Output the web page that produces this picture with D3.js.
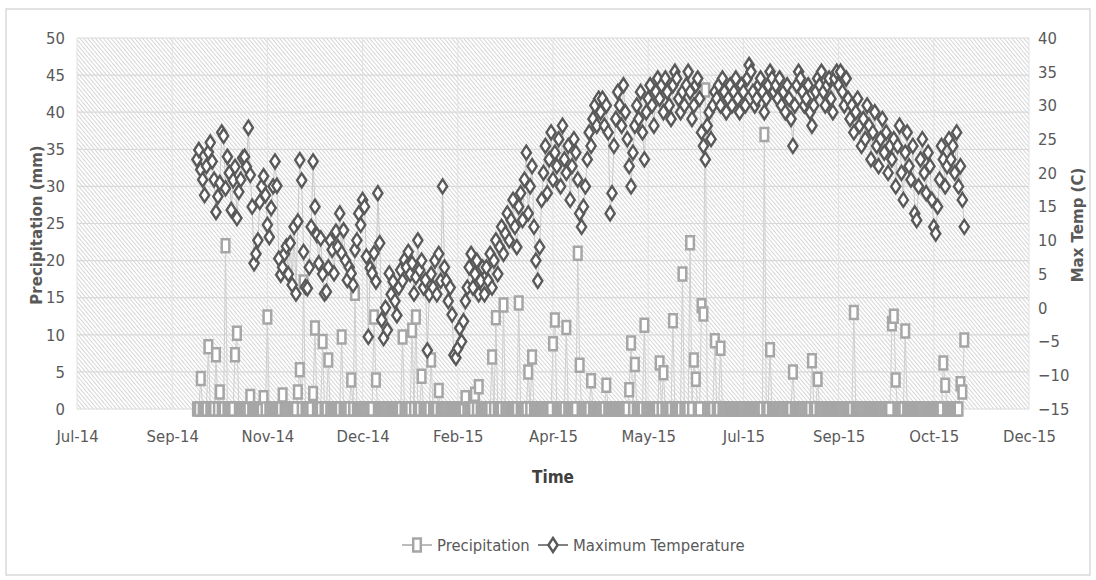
<!DOCTYPE html>
<html>
<head>
<meta charset="utf-8">
<script src="https://cdn.jsdelivr.net/npm/d3@7"></script>
<style>
  html, body { margin: 0; padding: 0; background: #ffffff; }
  svg text { font-family: "Liberation Sans Narrow", "DejaVu Sans Condensed", "Liberation Sans", sans-serif; }
</style>
</head>
<body>
<svg id="chart" width="1096" height="580"></svg>
<script>
// ---- Data -------------------------------------------------------------
const recordStart = "2014-10-01";   // first daily observation

// Daily maximum temperature (C), one array per month
const tOct14 = [22,23.4,20.5,19,16.7,21,23.1,24.5,21.7,19,14.2,16.5,18.5,26,25.5,17.7,22.4,20,14.5,18.9,20.9,13.3,17.2,19,22.2,22.4,20.9,26.7,19.7,15,6.6];
const tNov14 = [8,10,15.7,18,19.5,16.7,12.3,10.5,14.8,18,21.7,18.1,7.3,4.9,6,8,9.1,5,9.6,3.4,12,2.1,12.8,21.9,18.9,8.3,3.1,2.9,6,12];
const tDec14 = [21.7,15,10.8,6.6,10.3,5,2.1,2.4,6,10,8.6,5.1,11.3,9,14,8.1,11.5,7,4.1,6,5.1,3.4,8.6,10,14,12.3,16,15,7.6,-4.3,5.9];
const tJan15 = [5.1,8.1,3.9,17,9.6,-1.8,-4.5,0,-3.3,5.1,2,3.9,1,-1.1,3,5.6,4,7.1,6,8.3,5,6.6,2.1,4.6,10,5.6,7,3,4.1,-6.3,2];
const tFeb15 = [5,3,7,2,8,4,18,6,4,1,3,-1,-7,-7.4,-6,-3,-5,-2,1,3,6,8,3,5,7,2,4,6];
const tMar15 = [2,6,4,8,3,7,10,5,9,12,8,11,14,10,13,16,12,9,15,17,13,19,23,14,18,21,12,7,4,9,16];
const tApr15 = [20,24,17,22,26,19,23,21,25,18,27,22,20,24,16,21,25,23,19,14,12,15,18,22,26,24,28,30,27,31];
const tMay15 = [29,31,27,30,26,14,17,24,28,32,30,27,33,29,25,21,18,23,27,30,28,32,26,22,29,31,33,30,27,32,34];
const tJun15 = [31,33,29,34,32,30,28,33,35,34,31,29,32,30,33,35,32,28,30,33,34,31,26,24,22,27,29,25,30,32];
const tJul15 = [31,33,30,34,32,29,31,33,30,32,34,31,29,33,32,30,34,36,35,32,30,31,33,34,32,29,31,33,35,34,32];
const tAug15 = [33,31,34,30,32,29,33,31,28,24,30,33,35,34,32,30,31,33,29,27,30,32,34,33,35,32,30,33,34,31,29];
const tSep15 = [34,35,33,35,32,30,34,31,28,30,26,29,31,27,24,28,25,30,27,22,26,29,24,21,25,28,23,26,20,24];
const tOct15 = [22,25,18,24,27,20,16,23,26,21,19,24,14,13,18,22,25,20,17,23,21,16,12,11,15,19,24,22,18,21,25];
const tNov15 = [22,24,20,26,18,21,16,12];

// Days with measurable precipitation (mm); every other day of the record is 0
const rainDates = ["2014-10-03","2014-10-07","2014-10-11","2014-10-13","2014-10-16","2014-10-21","2014-10-22","2014-10-29",
  "2014-11-05","2014-11-07","2014-11-15","2014-11-23","2014-11-24","2014-11-26","2014-12-01","2014-12-02","2014-12-06",
  "2014-12-09","2014-12-16","2014-12-21","2014-12-23","2015-01-02","2015-01-03","2015-01-17","2015-01-22","2015-01-24",
  "2015-01-27","2015-02-01","2015-02-05","2015-02-19","2015-02-24","2015-02-26","2015-03-05","2015-03-07","2015-03-11",
  "2015-03-19","2015-03-24","2015-03-26","2015-04-06","2015-04-07","2015-04-13","2015-04-19","2015-04-20","2015-04-26",
  "2015-05-04","2015-05-16","2015-05-17","2015-05-19","2015-05-24","2015-06-01","2015-06-03","2015-06-08","2015-06-13",
  "2015-06-17","2015-06-19","2015-06-20","2015-06-23","2015-06-24","2015-06-25","2015-06-30","2015-07-03","2015-07-26",
  "2015-07-29","2015-08-10","2015-08-20","2015-08-23","2015-09-11","2015-10-01","2015-10-02","2015-10-03","2015-10-08",
  "2015-10-28","2015-10-29","2015-11-06","2015-11-07","2015-11-08"];
const rainMm = [4.1,8.4,7.3,2.3,22,7.3,10.2,1.7,
  1.5,12.4,1.9,2.3,5.3,17.1,2.1,10.9,9.1,
  6.6,9.7,3.9,15.6,12.4,3.9,9.7,10.6,12.4,
  4.4,6.6,2.5,1.5,2,3,7,12.3,14,
  14.3,5,7,8.8,12,11,21,5.9,3.8,
  3.2,2.6,8.9,6,11.3,6.2,4.9,11.9,18.2,
  22.4,6.6,4,13.9,12.8,43,9.2,8.2,37,
  8,5,6.5,4,13,11.5,12.5,3.9,10.5,
  6.2,3.2,3.4,2.3,9.3];

// Axis ticks
const xTickDates = ["2014-07-30","2014-09-18","2014-11-07","2014-12-27","2015-02-15","2015-04-06",
  "2015-05-26","2015-07-15","2015-09-03","2015-10-23","2015-12-12"];
const precipTicks = [0,5,10,15,20,25,30,35,40,45,50];
const tempTicks = [-15,-10,-5,0,5,10,15,20,25,30,35,40];

// ---- Build daily records ---------------------------------------------
const parse = d3.utcParse("%Y-%m-%d");
const temps = [].concat(tOct14,tNov14,tDec14,tJan15,tFeb15,tMar15,tApr15,tMay15,tJun15,tJul15,tAug15,tSep15,tOct15,tNov15);
const day0 = parse(recordStart);
const rainByDay = new Map(rainDates.map((d,i) => [d, rainMm[i]]));
const fmtKey = d3.utcFormat("%Y-%m-%d");
const records = temps.map((t,i) => {
  const date = d3.utcDay.offset(day0, i);
  const key = fmtKey(date);
  return { date, temp: t, precip: rainByDay.has(key) ? rainByDay.get(key) : 0 };
});

// ---- Layout ----------------------------------------------------------
const svg = d3.select("#chart");
const plot = { left: 77, right: 1029, top: 38, bottom: 409 };
const tickDates = xTickDates.map(parse);

const x = d3.scaleUtc().domain([tickDates[0], tickDates[tickDates.length-1]]).range([plot.left, plot.right]);
const yP = d3.scaleLinear().domain([0,50]).range([plot.bottom, plot.top]);
const yT = d3.scaleLinear().domain([-15,40]).range([plot.bottom, plot.top]);

const grey = "#595959";

// chart frame
svg.append("rect").attr("x",6).attr("y",9).attr("width",1084).attr("height",566)
  .attr("fill","#fff").attr("stroke","#d9d9d9").attr("stroke-width",1.5);

// hatched plot background
const defs = svg.append("defs");
const pat = defs.append("pattern").attr("id","hatch").attr("patternUnits","userSpaceOnUse")
  .attr("width",3).attr("height",10).attr("patternTransform","rotate(-40)");
pat.append("rect").attr("width",3).attr("height",10).attr("fill","#ffffff");
pat.append("line").attr("x1",0.5).attr("y1",0).attr("x2",0.5).attr("y2",10)
  .attr("stroke","#d6d6d6").attr("stroke-width",1);

svg.append("rect").attr("x",plot.left).attr("y",plot.top)
  .attr("width",plot.right-plot.left).attr("height",plot.bottom-plot.top).attr("fill","url(#hatch)");

// gridlines
const grid = svg.append("g");
grid.selectAll("line.h").data(precipTicks).join("line").attr("class","h")
  .attr("x1",plot.left).attr("x2",plot.right).attr("y1",d=>yP(d)).attr("y2",d=>yP(d))
  .attr("stroke","#d9d9d9").attr("stroke-width",1.2);
grid.selectAll("line.v").data(tickDates).join("line").attr("class","v")
  .attr("y1",plot.top).attr("y2",plot.bottom).attr("x1",d=>x(d)).attr("x2",d=>x(d))
  .attr("stroke","#e2e2e2").attr("stroke-width",1);

// axes
const axL = svg.append("g").attr("transform",`translate(${plot.left},0)`)
  .call(d3.axisLeft(yP).tickValues(precipTicks).tickSize(0).tickPadding(12));
const axR = svg.append("g").attr("transform",`translate(${plot.right},0)`)
  .call(d3.axisRight(yT).tickValues(tempTicks).tickSize(0).tickPadding(9));
const axB = svg.append("g").attr("transform",`translate(0,${plot.bottom})`)
  .call(d3.axisBottom(x).tickValues(tickDates).tickFormat(d3.utcFormat("%b-%y")).tickSize(0).tickPadding(21));
[axL, axR, axB].forEach(g => {
  g.select(".domain").remove();
  g.selectAll("text").attr("fill",grey).attr("font-size",16.5);
});

// axis titles
svg.append("text").attr("transform","translate(42,225) rotate(-90)").attr("text-anchor","middle")
  .attr("fill",grey).attr("font-size",15).attr("font-weight","bold")
  .style("font-family","'DejaVu Sans', sans-serif").text("Precipitation (mm)");
svg.append("text").attr("transform","translate(1083,225) rotate(-90)").attr("text-anchor","middle")
  .attr("fill",grey).attr("font-size",15).attr("font-weight","bold")
  .style("font-family","'DejaVu Sans', sans-serif").text("Max Temp (C)");
svg.append("text").attr("x",553).attr("y",483).attr("text-anchor","middle")
  .attr("fill","#404040").attr("font-size",17).attr("font-weight","bold").text("Time");

// markers
const squarePath = "M-3.8,-6.5 H3.8 V6.5 H-3.8 Z";
const diamondPath = "M0,-7 L4.6,0 L0,7 L-4.6,0 Z";

// precipitation series
svg.append("path").datum(records)
  .attr("d", d3.line().x(d=>x(d.date)).y(d=>yP(d.precip)))
  .attr("fill","none").attr("stroke","#cfcfcf").attr("stroke-width",1);
svg.append("g").selectAll("path").data(records).join("path")
  .attr("transform",d=>`translate(${x(d.date)},${yP(d.precip)})`)
  .attr("d",squarePath).attr("fill","#ffffff").attr("stroke","#a6a6a6").attr("stroke-width",2.5);

// temperature series
svg.append("path").datum(records)
  .attr("d", d3.line().x(d=>x(d.date)).y(d=>yT(d.temp)))
  .attr("fill","none").attr("stroke","#c4c4c4").attr("stroke-width",0.9);
svg.append("g").selectAll("path").data(records).join("path")
  .attr("transform",d=>`translate(${x(d.date)},${yT(d.temp)})`)
  .attr("d",diamondPath).attr("fill","#ffffff").attr("stroke",grey).attr("stroke-width",2.4);

// legend
const lg = svg.append("g").attr("transform","translate(0,545)");
lg.append("line").attr("x1",402).attr("x2",432).attr("stroke","#a6a6a6").attr("stroke-width",1.5);
lg.append("path").attr("transform","translate(417,0)").attr("d",squarePath)
  .attr("fill","#fff").attr("stroke","#a6a6a6").attr("stroke-width",2.5);
lg.append("text").attr("x",437).attr("y",6).attr("fill",grey).attr("font-size",16.5).text("Precipitation");
lg.append("line").attr("x1",538).attr("x2",568).attr("stroke",grey).attr("stroke-width",1.5);
lg.append("path").attr("transform","translate(553,0)").attr("d",diamondPath)
  .attr("fill","#fff").attr("stroke",grey).attr("stroke-width",2.4);
lg.append("text").attr("x",573).attr("y",6).attr("fill",grey).attr("font-size",16.5).text("Maximum Temperature");
</script>
</body>
</html>
